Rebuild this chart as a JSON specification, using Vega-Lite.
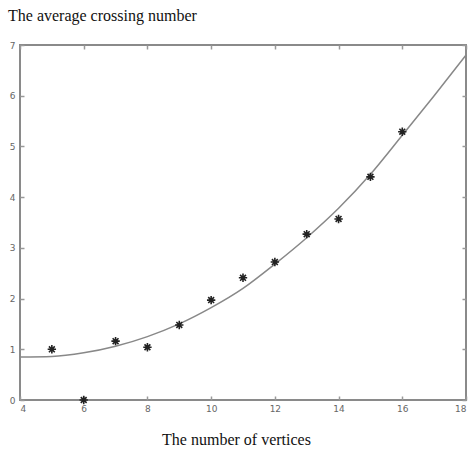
{
  "$schema": "https://vega.github.io/schema/vega-lite/v6.json",
  "width": 446,
  "height": 355,
  "autosize": {"type": "none"},
  "padding": {"left": 20, "top": 45, "right": 6, "bottom": 60},
  "background": "white",
  "title": {
    "text": "The average crossing number",
    "anchor": "start",
    "frame": "group",
    "font": "Liberation Serif",
    "fontSize": 16,
    "fontWeight": "normal",
    "color": "#111",
    "dx": -12,
    "offset": 17
  },
  "config": {
    "view": {"stroke": "#8a8a8a", "strokeWidth": 2},
    "axis": {
      "grid": false,
      "domain": false,
      "labelFont": "DejaVu Sans",
      "labelFontSize": 9,
      "labelColor": "#666",
      "tickColor": "#999",
      "tickWidth": 1.5
    }
  },
  "datasets": {
    "obs": [
      {"n": 5, "c": 1.0},
      {"n": 6, "c": 0.0},
      {"n": 7, "c": 1.16},
      {"n": 8, "c": 1.04},
      {"n": 9, "c": 1.48},
      {"n": 10, "c": 1.97},
      {"n": 11, "c": 2.41},
      {"n": 12, "c": 2.72},
      {"n": 13, "c": 3.27},
      {"n": 14, "c": 3.57},
      {"n": 15, "c": 4.4},
      {"n": 16, "c": 5.29}
    ],
    "fit": [
      {"n": 4, "c": 0.85},
      {"n": 5, "c": 0.86},
      {"n": 6, "c": 0.93},
      {"n": 7, "c": 1.06},
      {"n": 8, "c": 1.25},
      {"n": 9, "c": 1.5},
      {"n": 10, "c": 1.82},
      {"n": 11, "c": 2.2},
      {"n": 12, "c": 2.68},
      {"n": 13, "c": 3.2},
      {"n": 14, "c": 3.78},
      {"n": 15, "c": 4.45},
      {"n": 16, "c": 5.22},
      {"n": 17, "c": 6.0},
      {"n": 18, "c": 6.8}
    ]
  },
  "resolve": {"axis": {"x": "independent", "y": "independent"}},
  "layer": [
    {
      "data": {"name": "fit"},
      "mark": {"type": "line", "color": "#888", "strokeWidth": 1.5, "interpolate": "monotone"},
      "encoding": {
        "x": {"field": "n", "type": "quantitative", "scale": {"domain": [4, 18], "nice": false},
          "axis": {"orient": "bottom", "values": [4, 6, 8, 10, 12, 14, 16, 18], "ticks": false, "labelPadding": 4,
            "title": "The number of vertices", "titleFont": "Liberation Serif", "titleFontSize": 16, "titleFontWeight": "normal", "titleColor": "#111", "titlePadding": 18, "titleX": 216}},
        "y": {"field": "c", "type": "quantitative", "scale": {"domain": [0, 7], "nice": false},
          "axis": {"orient": "left", "values": [0, 1, 2, 3, 4, 5, 6, 7], "ticks": false, "labelPadding": 5, "title": null}}
      }
    },
    {
      "data": {"name": "obs"},
      "mark": {"type": "point", "shape": "M-1,0L1,0M0,-1L0,1M-0.7,-0.7L0.7,0.7M-0.7,0.7L0.7,-0.7", "filled": false, "color": "#222", "strokeWidth": 1.6, "size": 70, "opacity": 1},
      "encoding": {
        "x": {"field": "n", "type": "quantitative",
          "axis": {"orient": "bottom", "values": [4, 6, 8, 10, 12, 14, 16, 18], "labels": false, "tickSize": 4, "offset": -4, "title": null}},
        "y": {"field": "c", "type": "quantitative",
          "axis": {"orient": "left", "values": [0, 1, 2, 3, 4, 5, 6, 7], "labels": false, "tickSize": 4, "offset": -4, "title": null}}
      }
    },
    {
      "data": {"name": "obs"},
      "mark": {"type": "point", "opacity": 0},
      "encoding": {
        "x": {"field": "n", "type": "quantitative",
          "axis": {"orient": "top", "values": [4, 6, 8, 10, 12, 14, 16, 18], "labels": false, "tickSize": 4, "offset": -4, "title": null}},
        "y": {"field": "c", "type": "quantitative",
          "axis": {"orient": "right", "values": [0, 1, 2, 3, 4, 5, 6, 7], "labels": false, "tickSize": 4, "offset": -4, "title": null}}
      }
    }
  ]
}
